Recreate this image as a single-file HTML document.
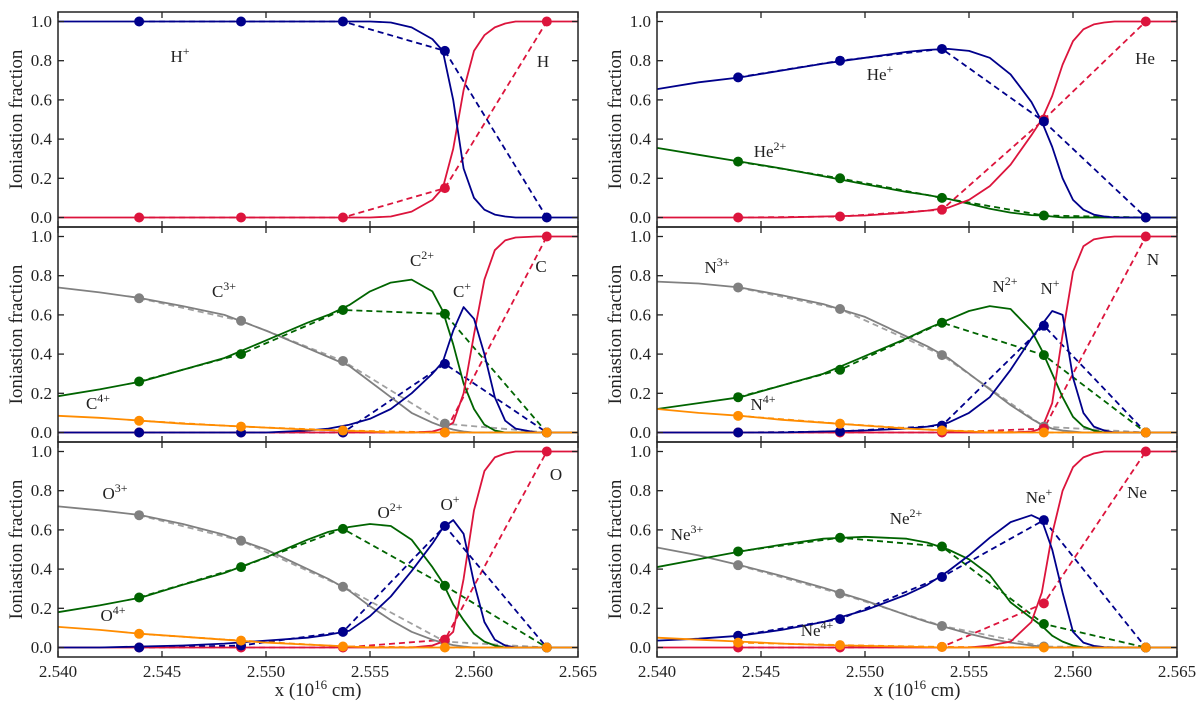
<!DOCTYPE html>
<html><head><meta charset="utf-8"><style>
body{margin:0;background:#fff;width:1200px;height:704px;overflow:hidden}
svg text{font-family:"Liberation Serif","DejaVu Serif",serif !important;fill:#222}
</style></head><body>
<svg id="fig" width="1200" height="704" xmlns="http://www.w3.org/2000/svg" font-family="Liberation Serif, DejaVu Serif, serif"></svg>
<script>
const xTicks=[2.540,2.545,2.550,2.555,2.560,2.565];
const yTicks=[0.0,0.2,0.4,0.6,0.8,1.0];
const dotX=[2.5439,2.5488,2.5537,2.5586,2.5635];
const gridX=[2.540,2.542,2.544,2.546,2.548,2.550,2.552,2.553,2.554,2.555,2.556,2.557,2.558,2.5585,2.559,2.5595,2.560,2.5605,2.561,2.5615,2.562,2.563,2.565];
// H panel
const H_plus_dots=[1,1,1,0.85,0];
const H0_dots=[0,0,0,0.15,1];
const H_plus_line=[1,1,1,1,1,1,1,1,1,1,0.995,0.97,0.91,0.85,0.6,0.25,0.1,0.04,0.015,0.005,0,0,0];
const H0_line=[0,0,0,0,0,0,0,0,0,0,0.005,0.03,0.09,0.15,0.35,0.65,0.85,0.93,0.97,0.99,1,1,1];
// He panel
const He_plus_dots=[0.715,0.80,0.86,0.49,0];
const He_2p_dots=[0.285,0.2,0.1,0.01,0];
const He0_dots=[0,0.005,0.04,0.50,1];
const He_plus_line=[0.655,0.69,0.715,0.75,0.785,0.815,0.845,0.855,0.86,0.85,0.815,0.73,0.59,0.49,0.36,0.2,0.09,0.04,0.015,0.005,0,0,0];
const He_2p_line=[0.355,0.32,0.285,0.25,0.21,0.17,0.13,0.115,0.095,0.07,0.045,0.025,0.012,0.01,0.005,0,0,0,0,0,0,0,0];
const He0_line=[0,0,0,0,0.005,0.01,0.025,0.035,0.05,0.09,0.16,0.27,0.42,0.5,0.62,0.78,0.9,0.96,0.985,0.995,1,1,1];
// C panel
const C_3p_dots=[0.685,0.57,0.365,0.045,0];
const C_2p_dots=[0.26,0.40,0.625,0.605,0];
const C_1p_dots=[0,0,0,0.35,0];
const C_4p_dots=[0.06,0.03,0.01,0,0];
const C0_dots=[0,0,0,0,1];
const C_3p_line=[0.74,0.715,0.685,0.645,0.6,0.52,0.43,0.385,0.34,0.26,0.18,0.1,0.05,0.03,0.015,0.005,0,0,0,0,0,0,0];
const C_2p_line=[0.185,0.22,0.26,0.32,0.38,0.47,0.56,0.6,0.65,0.72,0.765,0.78,0.72,0.62,0.45,0.25,0.12,0.04,0.01,0,0,0,0];
const C_1p_line=[0,0,0,0,0,0,0.01,0.02,0.04,0.07,0.12,0.2,0.3,0.36,0.52,0.64,0.58,0.4,0.18,0.06,0.02,0,0];
const C_4p_line=[0.085,0.075,0.06,0.045,0.035,0.025,0.015,0.012,0.008,0.005,0,0,0,0,0,0,0,0,0,0,0,0,0];
const C0_line=[0,0,0,0,0,0,0,0,0,0,0,0,0.005,0.02,0.05,0.2,0.5,0.78,0.93,0.98,0.995,1,1];
// N panel
const N_3p_dots=[0.74,0.63,0.395,0.03,0];
const N_2p_dots=[0.18,0.32,0.56,0.395,0];
const N_1p_dots=[0,0.005,0.035,0.545,0];
const N_4p_dots=[0.085,0.045,0.01,0,0];
const N0_dots=[0,0,0,0.02,1];
const N_3p_line=[0.77,0.76,0.74,0.70,0.655,0.59,0.49,0.44,0.38,0.3,0.22,0.14,0.07,0.04,0.02,0.01,0.005,0,0,0,0,0,0];
const N_2p_line=[0.12,0.15,0.18,0.24,0.3,0.39,0.48,0.53,0.575,0.62,0.645,0.63,0.52,0.42,0.3,0.18,0.08,0.03,0.01,0,0,0,0];
const N_1p_line=[0,0,0,0,0.005,0.01,0.02,0.03,0.05,0.1,0.18,0.32,0.48,0.55,0.62,0.6,0.28,0.1,0.03,0.01,0,0,0];
const N_4p_line=[0.12,0.1,0.085,0.065,0.05,0.035,0.02,0.015,0.01,0.005,0,0,0,0,0,0,0,0,0,0,0,0,0];
const N0_line=[0,0,0,0,0,0,0,0,0,0,0,0,0.005,0.02,0.15,0.5,0.82,0.95,0.985,0.995,1,1,1];
// O panel
const O_3p_dots=[0.675,0.545,0.31,0.03,0];
const O_2p_dots=[0.255,0.41,0.605,0.315,0];
const O_1p_dots=[0,0.01,0.08,0.62,0];
const O_4p_dots=[0.07,0.035,0.005,0,0];
const O0_dots=[0,0,0,0.04,1];
const O_3p_line=[0.72,0.7,0.675,0.63,0.575,0.5,0.4,0.35,0.29,0.21,0.14,0.08,0.04,0.025,0.012,0.005,0,0,0,0,0,0,0];
const O_2p_line=[0.18,0.215,0.255,0.32,0.38,0.46,0.55,0.59,0.615,0.63,0.62,0.55,0.41,0.33,0.22,0.14,0.07,0.03,0.01,0,0,0,0];
const O_1p_line=[0,0,0.005,0.01,0.02,0.035,0.05,0.065,0.085,0.16,0.26,0.39,0.53,0.61,0.65,0.58,0.33,0.13,0.04,0.01,0,0,0];
const O_4p_line=[0.105,0.09,0.07,0.055,0.04,0.025,0.015,0.01,0.005,0,0,0,0,0,0,0,0,0,0,0,0,0,0];
const O0_line=[0,0,0,0,0,0,0,0,0,0,0,0,0.01,0.03,0.08,0.35,0.7,0.9,0.97,0.99,1,1,1];
// Ne panel
const Ne_3p_dots=[0.42,0.275,0.11,0.005,0];
const Ne_2p_dots=[0.49,0.56,0.515,0.12,0];
const Ne_1p_dots=[0.06,0.145,0.36,0.65,0];
const Ne_4p_dots=[0.025,0.012,0.003,0,0];
const Ne0_dots=[0,0,0.003,0.225,1];
const Ne_3p_line=[0.51,0.47,0.42,0.365,0.305,0.24,0.165,0.13,0.1,0.07,0.045,0.025,0.01,0.005,0,0,0,0,0,0,0,0,0];
const Ne_2p_line=[0.41,0.45,0.49,0.525,0.555,0.565,0.555,0.535,0.5,0.45,0.37,0.23,0.15,0.11,0.06,0.03,0.01,0,0,0,0,0,0];
const Ne_1p_line=[0.035,0.045,0.06,0.09,0.13,0.19,0.27,0.32,0.39,0.47,0.56,0.64,0.675,0.65,0.5,0.28,0.08,0.025,0.008,0.002,0,0,0];
const Ne_4p_line=[0.05,0.04,0.03,0.02,0.013,0.008,0.004,0.002,0,0,0,0,0,0,0,0,0,0,0,0,0,0,0];
const Ne0_line=[0,0,0,0,0,0,0,0,0,0,0.01,0.03,0.13,0.28,0.58,0.8,0.92,0.97,0.99,1,1,1,1];

const COL={blue:'#00008b',red:'#dc143c',green:'#006400',gray:'#808080',orange:'#ff8c00'};
const FONT='"Liberation Serif", "DejaVu Serif", serif';
const NS='http://www.w3.org/2000/svg';
const svg=document.getElementById('fig');
function mk(tag,attrs,parent){const e=document.createElementNS(NS,tag);for(const k in attrs)e.setAttribute(k,attrs[k]);if(tag==='text')e.setAttribute('font-family',FONT);(parent||svg).appendChild(e);return e;}

const panels=[
 {name:'hydrogen',col:0,row:0,series:[['red',H0_line,H0_dots],['blue',H_plus_line,H_plus_dots]],
  labels:[['H','+',180,62],['H','',543,67]]},
 {name:'helium',col:1,row:0,series:[['green',He_2p_line,He_2p_dots],['red',He0_line,He0_dots],['blue',He_plus_line,He_plus_dots]],
  labels:[['He','+',880,80],['He','',1145,64],['He','2+',770,157]]},
 {name:'carbon',col:0,row:1,series:[['gray',C_3p_line,C_3p_dots],['green',C_2p_line,C_2p_dots],['red',C0_line,C0_dots],['blue',C_1p_line,C_1p_dots],['orange',C_4p_line,C_4p_dots]],
  labels:[['C','3+',224,297],['C','2+',422,266],['C','+',462,297],['C','',541,272],['C','4+',98,409]]},
 {name:'nitrogen',col:1,row:1,series:[['gray',N_3p_line,N_3p_dots],['green',N_2p_line,N_2p_dots],['red',N0_line,N0_dots],['blue',N_1p_line,N_1p_dots],['orange',N_4p_line,N_4p_dots]],
  labels:[['N','3+',717,273],['N','2+',1005,292],['N','+',1050,294],['N','',1153,265],['N','4+',763,410]]},
 {name:'oxygen',col:0,row:2,series:[['gray',O_3p_line,O_3p_dots],['green',O_2p_line,O_2p_dots],['red',O0_line,O0_dots],['blue',O_1p_line,O_1p_dots],['orange',O_4p_line,O_4p_dots]],
  labels:[['O','3+',115,499],['O','2+',390,518],['O','+',450,510],['O','',556,480],['O','4+',113,621]]},
 {name:'neon',col:1,row:2,series:[['gray',Ne_3p_line,Ne_3p_dots],['green',Ne_2p_line,Ne_2p_dots],['red',Ne0_line,Ne0_dots],['blue',Ne_1p_line,Ne_1p_dots],['orange',Ne_4p_line,Ne_4p_dots]],
  labels:[['Ne','3+',687,540],['Ne','2+',906,524],['Ne','+',1039,503],['Ne','',1137,498],['Ne','4+',817,636]]}
];
const L0=[58,657], W=520, T0=12, PH=215;
panels.forEach(p=>{
  const left=L0[p.col], top=T0+p.row*PH, bottom=top+PH;
  const zero=top+205.5;
  const sx=v=>left+(v-2.540)/0.025*W;
  const sy=v=>zero-v*196;
  const g=mk('g',{});
  
  
  const clipId='clip-'+p.name;
  const cp=mk('clipPath',{id:clipId},g);mk('rect',{x:left,y:top,width:W,height:PH},cp);
  const plot=mk('g',{'clip-path':'url(#'+clipId+')'},g);
  p.series.forEach(s=>{
    const [c,line,dots]=s;
    const d2=dots.map((v,i)=>(i?'L':'M')+sx(dotX[i]).toFixed(1)+','+sy(v).toFixed(1)).join('');
    const dl=mk('path',{d:d2,fill:'none',stroke:c==='gray'?'#a0a0a0':COL[c],'stroke-width':1.8,'stroke-dasharray':'6,4'},plot);
    
    
  });
  p.series.forEach(s=>{
    const [c,line]=s;
    const d1=line.map((v,i)=>(i?'L':'M')+sx(gridX[i]).toFixed(1)+','+sy(v).toFixed(1)).join('');
    const sl=mk('path',{d:d1,fill:'none',stroke:COL[c],'stroke-width':1.8,'stroke-linejoin':'round','stroke-linecap':'round'},plot);
    
    
  });
  p.series.forEach(s=>{
    const [c,,dots]=s;
    dots.forEach((v,i)=>{
      const m=mk('circle',{cx:sx(dotX[i]),cy:sy(v),r:5,fill:COL[c]},plot);
      
      
    });
  });
  const fr=mk('rect',{x:left,y:top,width:W,height:PH,fill:'none',stroke:'#222','stroke-width':1.5},g);
  
  
  xTicks.forEach(t=>{
    const x=sx(t);
    mk('line',{x1:x,x2:x,y1:bottom,y2:bottom-6,stroke:'#222','stroke-width':1.3},g);
    mk('line',{x1:x,x2:x,y1:top,y2:top+6,stroke:'#222','stroke-width':1.3},g);
    if(p.row===2){const tl=mk('text',{x:x,y:bottom+20,'font-size':17,'text-anchor':'middle'},g);tl.textContent=t.toFixed(3);
      }
  });
  yTicks.forEach(t=>{
    const y=sy(t);
    mk('line',{x1:left,x2:left+6,y1:y,y2:y,stroke:'#222','stroke-width':1.3},g);
    mk('line',{x1:left+W,x2:left+W-6,y1:y,y2:y,stroke:'#222','stroke-width':1.3},g);
    const tl=mk('text',{x:left-6,y:y+5.5,'font-size':17,'text-anchor':'end'},g);tl.textContent=t.toFixed(1);
    
  });
  const yt=mk('text',{x:0,y:0,'font-size':19,'text-anchor':'middle',transform:'translate('+(left-36)+','+(top+PH/2)+') rotate(-90)'},g);
  yt.textContent='Ioniastion fraction';
  
  if(p.row===2){
    const xt=mk('text',{x:left+W/2,y:bottom+39,'font-size':19,'text-anchor':'middle'},g);
    xt.innerHTML='x (10<tspan dy="-7" font-size="13">16</tspan><tspan dy="7"> cm)</tspan>';
    
  }
  p.labels.forEach(l=>{
    const t=mk('text',{x:l[2],y:l[3],'font-size':17,'text-anchor':'middle'},g);
    t.innerHTML=l[0]+(l[1]?'<tspan dy="-7" font-size="12">'+l[1]+'</tspan>':'');
    
  });
});
</script>
</body></html>
